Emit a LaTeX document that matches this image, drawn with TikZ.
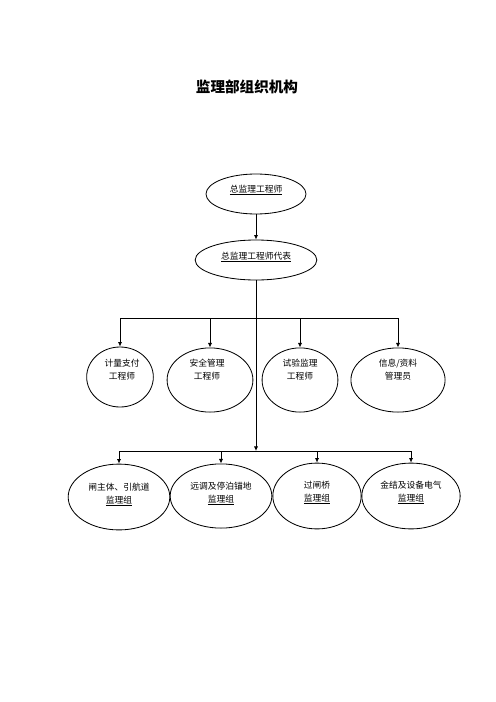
\documentclass[tikz,border=0pt]{standalone}
\usepackage{fontspec}
\newfontfamily\cjk{Noto Sans CJK SC}
\usetikzlibrary{shapes.geometric,arrows.meta}
\tikzset{
  ell/.style={draw,ellipse,inner sep=0pt,line width=1pt},
  lbl/.style={font=\cjk\fontsize{10.5}{15.6}\selectfont,align=center,inner sep=0pt},
  arr/.style={line width=1pt,-{Latex[length=5.5pt,width=5pt]}},
  bar/.style={line width=1pt}
}
\begin{document}
\begin{tikzpicture}[x=1.2pt,y=-1.2pt]
\useasboundingbox (0,0) rectangle (496,702);
\node[font=\cjk\bfseries\fontsize{17.5}{20}\selectfont] (title) at (247,87) {监理部组织机构};
\node[ell,minimum width=120pt,minimum height=48pt] (zj) at (256,194) {};
\node[lbl] (zjt) at (256,190) {\underline{总监理工程师}};
\node[ell,minimum width=146pt,minimum height=48pt] (zjdb) at (256,260) {};
\node[lbl] (zjdbt) at (256,257) {\underline{总监理工程师代表}};
\node[ell,minimum width=80pt,minimum height=72pt] (jl) at (120,377) {};
\node[lbl] (jlt) at (122,370) {计量支付\\工程师};
\node[ell,minimum width=103pt,minimum height=77pt] (aq) at (210,380) {};
\node[lbl] (aqt) at (207,370) {安全管理\\工程师};
\node[ell,minimum width=91pt,minimum height=77pt] (sy) at (300,380) {};
\node[lbl] (syt) at (300,370) {试验监理\\工程师};
\node[ell,minimum width=113pt,minimum height=77pt] (xx) at (398,380) {};
\node[lbl] (xxt) at (398,370) {信息/资料\\管理员};
\node[ell,minimum width=122pt,minimum height=79pt] (zz) at (119,497) {};
\node[lbl] (zzt) at (119,494) {闸主体、引航道\\\underline{监理组}};
\node[ell,minimum width=122pt,minimum height=77pt] (yd) at (221,496) {};
\node[lbl] (ydt) at (221,493) {远调及停泊锚地\\\underline{监理组}};
\node[ell,minimum width=106pt,minimum height=79pt] (gz) at (317,496) {};
\node[lbl] (gzt) at (317,492) {过闸桥\\\underline{监理组}};
\node[ell,minimum width=118pt,minimum height=79pt] (jj) at (411,496) {};
\node[lbl] (jjt) at (411,492) {金结及设备电气\\\underline{监理组}};
\coordinate (hub1) at (256,318);
\coordinate (hub2) at (256,451);
\draw[arr] (zj) -- (zjdb);
\draw[arr] (zjdb) -- (hub2);
\draw[bar] (jl |- hub1) -- (xx |- hub1);
\foreach \n in {jl,aq,sy,xx}
\draw[arr] (\n |- hub1) -- (\n);
\draw[bar] (zz |- hub2) -- (jj |- hub2);
\foreach \n in {zz,yd,gz,jj}
\draw[arr] (\n |- hub2) -- (\n);
\end{tikzpicture}
\end{document}
